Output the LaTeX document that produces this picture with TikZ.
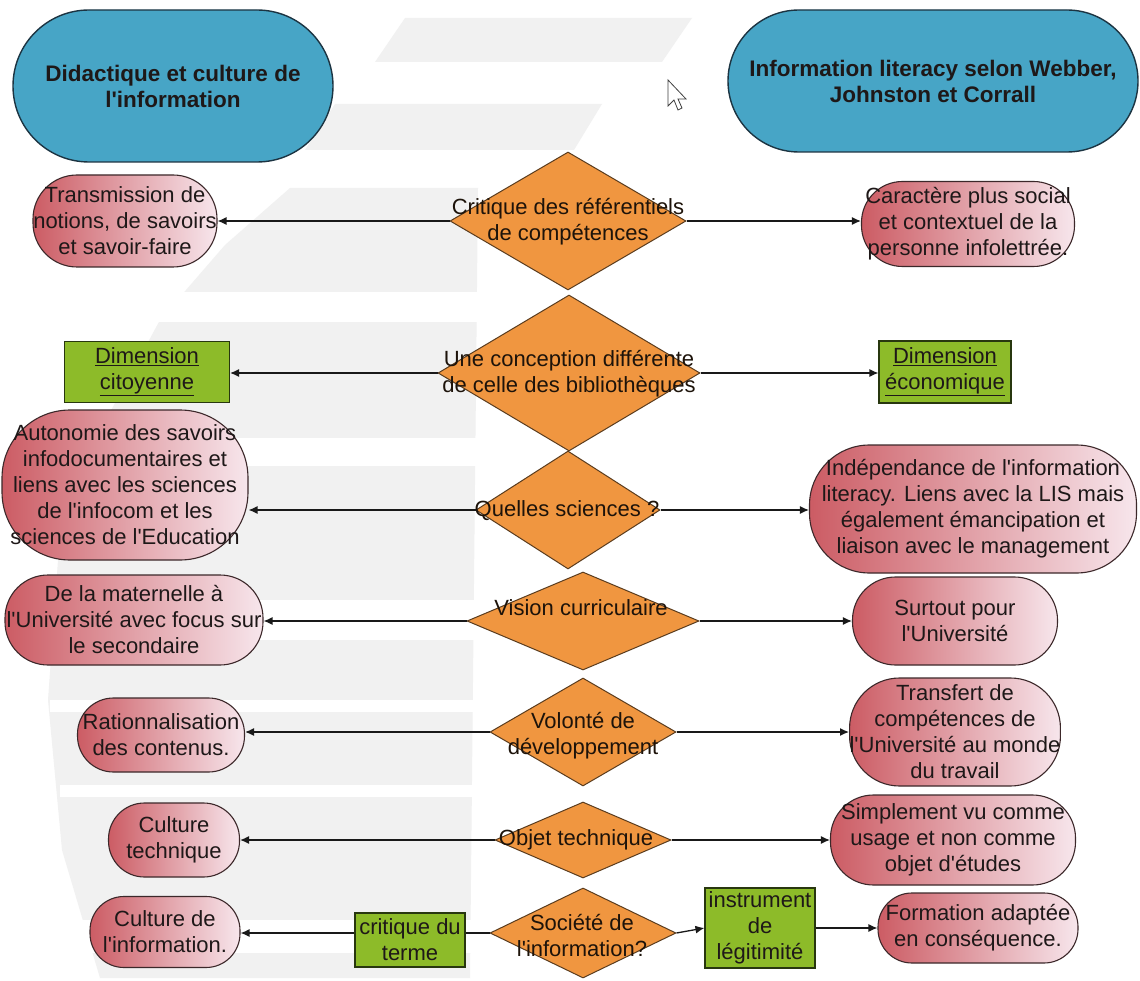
\documentclass[tikz,border=0pt]{standalone}
\usepackage{fontspec}
\setmainfont{Liberation Sans}
\usetikzlibrary{shapes.geometric,shapes.misc,arrows.meta,calc}
\newcommand{\aq}{\textquotesingle}
\definecolor{tblue}{RGB}{71,165,198}
\definecolor{tblueline}{RGB}{28,52,66}
\definecolor{redA}{RGB}{204,92,100}
\definecolor{redB}{RGB}{247,230,236}
\definecolor{redline}{RGB}{60,40,42}
\definecolor{torange}{RGB}{240,150,64}
\definecolor{orline}{RGB}{90,60,30}
\definecolor{tgreen}{RGB}{141,187,41}
\definecolor{grline}{RGB}{40,55,15}
\definecolor{txt}{RGB}{30,24,24}
\definecolor{wm}{RGB}{241,241,241}
\tikzset{
  base/.style={font=\fontsize{22}{26}\selectfont, text=txt, align=center, inner sep=0pt},
  titlebox/.style={base, shape=rounded rectangle, fill=tblue, draw=tblueline, line width=1.4pt,
    font=\fontsize{22.5}{26}\selectfont\bfseries},
  rednode/.style={base, shape=rectangle, rounded corners=#1, left color=redA, right color=redB, draw=redline, line width=1.1pt},
  greenbox/.style={base, shape=rectangle, fill=tgreen, draw=grline, line width=1.1pt},
  dia/.style={shape=diamond, fill=torange, draw=orline, line width=1pt, inner sep=0pt},
  diatext/.style={base, text=black!85!brown},
  arr/.style={draw=black!90, line width=1.3pt, -{Latex[length=9pt,width=8pt]}},
  plain/.style={draw=black!90, line width=1.3pt},
}
\begin{document}
\begin{tikzpicture}[x=1pt,y=-1pt]
\useasboundingbox (0,0) rectangle (1140,981);
\fill[white] (0,0) rectangle (1140,981);
% watermark
\fill[wm] (405,18) -- (692,18) -- (662,62) -- (375,62) -- cycle;
\fill[wm] (335,104) -- (602,104) -- (574,150) -- (305,150) -- cycle;
\fill[wm] (290,188) -- (478,188) -- (470,978) -- (100,978) -- (62,850) -- (48,700) -- (58,560) -- (95,440) -- (160,320) -- (225,245) -- cycle;
\fill[white] (150,292) rectangle (480,322);
\fill[white] (80,438) rectangle (480,466);
\fill[white] (50,600) rectangle (480,640);
\fill[white] (50,700) rectangle (480,712);
\fill[white] (60,785) rectangle (480,797);
\fill[white] (80,920) rectangle (480,953);

% titles
\node[titlebox, minimum width=320, minimum height=152] (tl) at (173,86) {Didactique et culture de\\l\aq information};
\node[titlebox, minimum width=410, minimum height=142] (tr) at (933,81) {Information literacy selon Webber,\\Johnston et Corrall};

% cursor
\draw[fill=white, draw=black!75, line width=0.8pt] (668,80) -- ++(0,26) -- ++(6,-6) -- ++(4,10) -- ++(4,-2) -- ++(-4,-9) -- ++(8,0) -- cycle;

% diamonds
\node[dia, minimum width=236, minimum height=138] (d1) at (568,221) {};
\node[dia, minimum width=262, minimum height=156] (d2) at (569,373) {};
\node[dia, minimum width=184, minimum height=118] (d3) at (568,510) {};
\node[dia, minimum width=232, minimum height=98] (d4) at (583,621) {};
\node[dia, minimum width=186, minimum height=108] (d5) at (583,732) {};
\node[dia, minimum width=176, minimum height=76] (d6) at (583,840) {};
\node[dia, minimum width=186, minimum height=90] (d7) at (583,933) {};

\node[diatext] (d1t) at (568,222) {Critique des référentiels\\de compétences};
\node[diatext] (d2t) at (569,374) {Une conception différente\\de celle des bibliothèques};
\node[diatext] (d3t) at (567,511) {Quelles sciences ?};
\node[diatext] (d4t) at (581,608) {Vision curriculaire};
\node[diatext] (d5t) at (583,736) {Volonté de\\développement};
\node[diatext] (d6t) at (576,840) {Objet technique};
\node[diatext] (d7t) at (582,935) {Société de\\l\aq information?};

% left nodes
\node[rednode=44, minimum width=184, minimum height=92] (l1) at (125,221) {Transmission de\\notions, de savoirs\\et savoir-faire};
\node[greenbox, minimum width=165, minimum height=61] (l2) at (147,372) {\underline{Dimension}\\\underline{citoyenne}};
\node[rednode=68, minimum width=246, minimum height=150] (l3) at (125,485) {Autonomie des savoirs\\infodocumentaires et\\liens avec les sciences\\de l\aq infocom et les\\sciences de l\aq Education};
\node[rednode=43, minimum width=258, minimum height=90] (l4) at (134,620) {De la maternelle à\\l\aq Université avec focus sur\\le secondaire};
\node[rednode=36, minimum width=167, minimum height=74] (l5) at (161,735) {Rationnalisation\\des contenus.};
\node[rednode=36, minimum width=131, minimum height=74] (l6) at (174,840) {Culture\\technique};
\node[rednode=34, minimum width=150, minimum height=71] (l7) at (165,932) {Culture de\\l\aq information.};
\node[greenbox, minimum width=110, minimum height=54] (c7) at (410,940) {critique du\\terme};

% right nodes
\node[rednode=41, minimum width=213, minimum height=85] (r1) at (968,224) {Caractère plus social\\et contextuel de la\\personne infolettrée.};
\node[greenbox, minimum width=132, minimum height=62] (r2) at (945,372) {\underline{Dimension}\\\underline{économique}};
\node[rednode=60, minimum width=327, minimum height=128] (r3) at (973,509) {Indépendance de l\aq information\\literacy. Liens avec la LIS mais\\également émancipation et\\liaison avec le management};
\node[rednode=43, minimum width=205, minimum height=88] (r4) at (955,621) {Surtout pour\\l\aq Université};
\node[rednode=50, minimum width=206, minimum height=108] (r5) at (955,732) {Transfert de\\compétences de\\l\aq Université au monde\\du travail};
\node[rednode=43, minimum width=245, minimum height=90] (r6) at (953,840) {Simplement vu comme\\usage et non comme\\objet d\aq études};
\node[greenbox, minimum width=110, minimum height=80] (i7) at (760,928) {instrument\\de\\légitimité};
\node[rednode=34, minimum width=200, minimum height=70] (r7) at (978,928) {Formation adaptée\\en conséquence.};

% connectors
\draw[arr] (d1.west) -- (d1.west -| l1.east);
\draw[arr] (d1.east) -- (d1.east -| r1.west);
\draw[arr] (d2.west) -- (d2.west -| l2.east);
\draw[arr] (d2.east) -- (d2.east -| r2.west);
\draw[arr] (d3.west) -- (d3.west -| l3.east);
\draw[arr] (d3.east) -- (d3.east -| r3.west);
\draw[arr] (d4.west) -- (d4.west -| l4.east);
\draw[arr] (d4.east) -- (d4.east -| r4.west);
\draw[arr] (d5.west) -- (d5.west -| l5.east);
\draw[arr] (d5.east) -- (d5.east -| r5.west);
\draw[arr] (d6.west) -- (d6.west -| l6.east);
\draw[arr] (d6.east) -- (d6.east -| r6.west);
\draw[plain] (d7.west) -- (d7.west -| c7.east);
\draw[arr] (d7.west -| c7.west) -- (d7.west -| l7.east);
\draw[arr] (d7.east) -- (i7.west);
\draw[arr] (i7.east) -- (i7.east -| r7.west);
\end{tikzpicture}
\end{document}
